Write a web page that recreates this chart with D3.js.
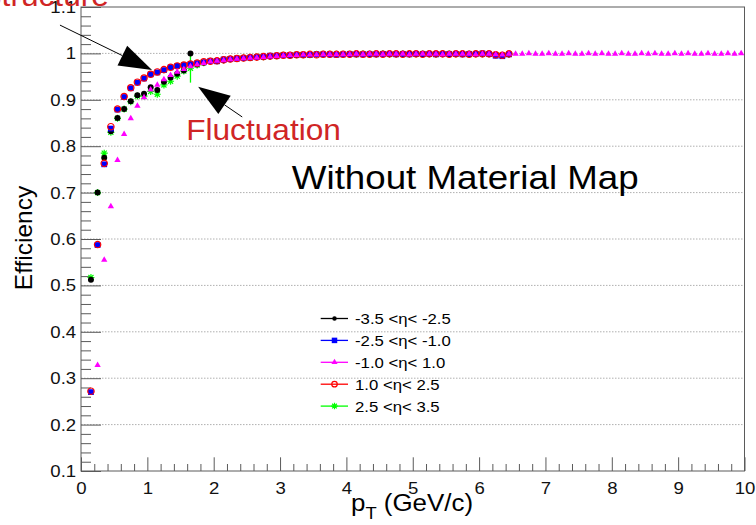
<!DOCTYPE html>
<html>
<head>
<meta charset="utf-8">
<script src="https://cdn.jsdelivr.net/npm/d3@7"></script>
<style>
  html, body { margin: 0; padding: 0; background: #fff; }
  svg { display: block; font-family: "Liberation Sans", Arial, Helvetica, sans-serif; }
</style>
</head>
<body>
<svg id="chart" width="756" height="525"></svg>
<script>
// ---- data: tracking efficiency vs pT in five pseudorapidity ranges ----
const ptBins = [
  0.15,0.25,0.35,0.45,0.55,0.65,0.75,0.85,0.95,1.05,
  1.15,1.25,1.35,1.45,1.55,1.65,1.75,1.85,1.95,2.05,
  2.15,2.25,2.35,2.45,2.55,2.65,2.75,2.85,2.95,3.05,
  3.15,3.25,3.35,3.45,3.55,3.65,3.75,3.85,3.95,4.05,
  4.15,4.25,4.35,4.45,4.55,4.65,4.75,4.85,4.95,5.05,
  5.15,5.25,5.35,5.45,5.55,5.65,5.75,5.85,5.95,6.05,
  6.15,6.25,6.35,6.45,6.55,6.65,6.75,6.85,6.95,7.05,
  7.15,7.25,7.35,7.45,7.55,7.65,7.75,7.85,7.95,8.05,
  8.15,8.25,8.35,8.45,8.55,8.65,8.75,8.85,8.95,9.05,
  9.15,9.25,9.35,9.45,9.55,9.65,9.75,9.85,9.95
];

// -3.5 < eta < -2.5
const effEtaM35M25 = [
  0.512,0.700,0.775,0.832,0.861,0.880,0.897,0.910,0.913,0.927,
  0.921,0.939,0.948,0.956,0.963,1.000,0.976,0.980,0.983,0.984,
  0.986,0.988,0.989,0.990,0.991,0.992,0.993,0.994,0.995,0.996,
  0.996,0.997,0.997,0.997,0.998,0.998,0.998,0.998,0.998,0.998,
  0.999,0.998,0.999,0.998,0.999,0.999,0.998,0.999,0.999,0.999,
  0.998,0.999,0.999,0.999,0.998,0.999,0.999,0.999,0.999,0.999,
  0.999,0.997,0.996,0.998
];
// -2.5 < eta < -1.0
const effEtaM25M10 = [
  0.270,0.587,0.761,0.838,0.879,0.906,0.925,0.937,0.946,0.955,
  0.959,0.964,0.970,0.973,0.975,0.977,0.979,0.981,0.984,0.983,
  0.987,0.988,0.989,0.990,0.991,0.992,0.993,0.995,0.995,0.996,
  0.996,0.997,0.997,0.997,0.998,0.998,0.998,0.997,0.998,0.999,
  0.998,0.998,0.999,0.998,0.999,0.999,0.998,0.999,0.998,0.999,
  0.999,0.999,0.998,0.999,0.999,0.999,0.998,0.999,0.999,1.000,
  0.999,0.995,0.994,0.998
];
// -1.0 < eta < 1.0 (no entry in the first bin)
const effEtaM10P10 = [
  null,0.328,0.555,0.670,0.770,0.826,0.860,0.887,0.905,0.922,
  0.932,0.944,0.953,0.960,0.966,0.972,0.976,0.979,0.982,0.984,
  0.985,0.987,0.988,0.989,0.990,0.991,0.992,0.993,0.994,0.995,
  0.996,0.996,0.997,0.997,0.997,0.998,0.998,0.998,0.998,0.998,
  0.999,0.998,0.999,0.999,0.998,0.999,0.999,0.999,0.998,0.999,
  0.999,0.999,0.999,0.998,0.999,0.999,0.999,0.999,0.998,0.999,
  0.999,0.998,0.997,0.999,0.999,0.999,1.000,0.999,0.999,1.000,
  0.999,0.999,1.000,0.999,0.999,1.000,0.999,1.000,0.999,0.999,
  1.000,0.999,0.999,1.000,0.999,1.000,0.999,0.999,1.000,0.999,
  1.000,0.999,0.999,1.000,0.999,0.999,1.000,0.999,1.000
];
// 1.0 < eta < 2.5
const effEtaP10P25 = [
  0.272,0.588,0.763,0.842,0.880,0.907,0.926,0.938,0.947,0.955,
  0.960,0.965,0.970,0.973,0.975,0.977,0.979,0.982,0.983,0.984,
  0.986,0.988,0.989,0.990,0.991,0.992,0.993,0.994,0.995,0.996,
  0.996,0.997,0.997,0.998,0.997,0.998,0.998,0.998,0.998,0.998,
  0.999,0.998,0.998,0.999,0.998,0.999,0.999,0.998,0.999,0.999,
  0.998,0.999,0.999,0.999,0.998,0.999,0.999,0.998,0.999,0.999,
  0.999,0.997,0.996,0.999
];
// 2.5 < eta < 3.5
const effEtaP25P35 = [
  0.517,0.700,0.785,0.830,0.860,0.880,0.896,0.908,0.908,0.918,
  0.912,0.932,0.940,0.951,0.962,0.968,0.975,0.980,0.983,0.984,
  0.986,0.988,0.989,0.990,0.991,0.992,0.993,0.994,0.995,0.996,
  0.996,0.997,0.997,0.997,0.998,0.998,0.998,0.998,0.998,0.998,
  0.998,0.999,0.998,0.999,0.999,0.998,0.999,0.999,0.998,0.999,
  0.999,0.999,0.998,0.999,0.999,0.999,0.999,0.998,0.999,0.999,
  0.999,0.997,0.996,0.998
];
// statistical error of the 2.5 < eta < 3.5 points (only one is visible)
const errEtaP25P35 = [
  0,0,0,0,0,0,0,0,0,0,
  0,0,0,0,0,0.031,0,0,0,0
];

const seriesNames = ["-3.5 <\u03b7< -2.5", "-2.5 <\u03b7< -1.0", "-1.0 <\u03b7< 1.0", "1.0 <\u03b7< 2.5", "2.5 <\u03b7< 3.5"];
const seriesColors = ["#000000", "#0000ff", "#ff00ff", "#ff0000", "#00ff00"];
const seriesMarkers = ["dot", "square", "triangle", "openCircle", "asterisk"];
const seriesValues = [effEtaM35M25, effEtaM25M10, effEtaM10P10, effEtaP10P25, effEtaP25P35];
const seriesErrors = [null, null, null, null, errEtaP25P35];
// drawing order of the graphs (the forward one goes underneath, central on top)
const drawOrder = [4, 0, 1, 3, 2];

const xTicks = [0,1,2,3,4,5,6,7,8,9,10];
const xTickLabels = ["0","1","2","3","4","5","6","7","8","9","10"];
const yTicks = [0.1,0.2,0.3,0.4,0.5,0.6,0.7,0.8,0.9,1.0,1.1];
const yTickLabels = ["0.1","0.2","0.3","0.4","0.5","0.6","0.7","0.8","0.9","1","1.1"];

// ---- layout ----
const svg = d3.select("#chart");
const frame = { left: 81, right: 744.5, top: 7, bottom: 471 };
const x = d3.scaleLinear().domain([0, 10]).range([frame.left, frame.right]);
const y = d3.scaleLinear().domain([0.1, 1.1]).range([frame.bottom, frame.top]);
const STRETCH = 1.08;       // glyphs are slightly wide in this canvas
const axisColor = "#5a5a5a";

svg.append("rect").attr("width", 756).attr("height", 525).attr("fill", "#fff");

// horizontal dotted grid
svg.append("g").selectAll("line")
  .data(yTicks.filter(d => d > 0.15 && d < 1.05))
  .join("line")
  .attr("x1", frame.left).attr("x2", frame.right)
  .attr("y1", d => y(d)).attr("y2", d => y(d))
  .attr("stroke", "#b0b0b0").attr("stroke-width", 1)
  .attr("stroke-dasharray", "1.5,1.5");

// ---- axes ----
function styleAxis(g) {
  g.select(".domain").remove();
  g.selectAll(".tick line").attr("stroke", axisColor);
  g.selectAll("text")
    .attr("fill", "#111")
    .style("font-size", "17.2px")
    .style("font-family", "'Liberation Sans', Arial, sans-serif");
}

const xMinor = d3.range(0, 10.001, 0.2).filter(v => Math.abs(v - Math.round(v)) > 1e-6);
svg.append("g").attr("transform", `translate(0,${frame.bottom})`)
  .call(d3.axisBottom(x).tickValues(xMinor).tickSizeInner(-7).tickSizeOuter(0).tickFormat(""))
  .call(styleAxis);
const xAxisG = svg.append("g").attr("transform", `translate(0,${frame.bottom})`)
  .call(d3.axisBottom(x).tickValues(xTicks).tickSizeInner(-13.7).tickSizeOuter(0)
        .tickPadding(10.5).tickFormat((d, i) => xTickLabels[i]))
  .call(styleAxis);
xAxisG.selectAll("text").attr("transform", `scale(${STRETCH},1)`);

const yMinor = d3.range(0.1, 1.1001, 0.02).filter(v => Math.abs(v * 10 - Math.round(v * 10)) > 1e-6);
svg.append("g").attr("transform", `translate(${frame.left},0)`)
  .call(d3.axisLeft(y).tickValues(yMinor).tickSizeInner(-10).tickSizeOuter(0).tickFormat(""))
  .call(styleAxis);
const yAxisG = svg.append("g").attr("transform", `translate(${frame.left},0)`)
  .call(d3.axisLeft(y).tickValues(yTicks).tickSizeInner(-20).tickSizeOuter(0)
        .tickPadding(4.5).tickFormat((d, i) => yTickLabels[i]))
  .call(styleAxis);
yAxisG.selectAll("text").attr("transform", `scale(${STRETCH},1)`);

// frame
svg.append("rect")
  .attr("x", frame.left).attr("y", frame.top)
  .attr("width", frame.right - frame.left).attr("height", frame.bottom - frame.top)
  .attr("fill", "none").attr("stroke", axisColor).attr("stroke-width", 1);

// axis titles
const xTitle = svg.append("text")
  .attr("transform", `translate(351,511) scale(${STRETCH},1)`)
  .style("font-size", "24px").attr("fill", "#000");
xTitle.append("tspan").text("p");
xTitle.append("tspan").attr("dy", 8).style("font-size", "17px").text("T");
xTitle.append("tspan").attr("dy", -8).text(" (GeV/c)");

svg.append("text")
  .attr("transform", "translate(32,238) rotate(-90)")
  .attr("text-anchor", "middle")
  .style("font-size", "24.5px").attr("fill", "#000")
  .text("Efficiency");

// ---- markers ----
function markerPath(kind, s) {
  switch (kind) {
    case "dot": return d3.symbol(d3.symbolCircle, s * s * 0.78)();
    case "square": return d3.symbol(d3.symbolSquare, s * s)();
    case "triangle": return d3.symbol(d3.symbolTriangle, s * s * 0.45)();
    case "openCircle": return d3.symbol(d3.symbolCircle, s * s * 0.78)();
    case "asterisk": {
      const r = s / 2, q = r * 0.72;
      return `M${-r},0L${r},0M0,${-r}L0,${r}M${-q},${-q}L${q},${q}M${-q},${q}L${q},${-q}`;
    }
  }
}
function applyMarker(sel, kind, color) {
  if (kind === "openCircle") sel.attr("fill", "none").attr("stroke", color).attr("stroke-width", 1.2);
  else if (kind === "asterisk") sel.attr("fill", "none").attr("stroke", color).attr("stroke-width", 1.2);
  else sel.attr("fill", color).attr("stroke", "none");
}
const markerSize = { dot: 6, square: 5.8, triangle: 6.2, openCircle: 6.4, asterisk: 7 };

const plot = svg.append("g");
drawOrder.forEach(si => {
  const vals = seriesValues[si];
  const pts = vals.map((v, i) => ({ pt: ptBins[i], v, e: seriesErrors[si] ? (seriesErrors[si][i] || 0) : 0 }))
                  .filter(d => d.v !== null);
  const g = plot.append("g");
  // error bars
  g.selectAll("line.err").data(pts.filter(d => d.e > 0)).join("line")
    .attr("class", "err")
    .attr("x1", d => x(d.pt)).attr("x2", d => x(d.pt))
    .attr("y1", d => y(d.v - d.e)).attr("y2", d => y(d.v + d.e))
    .attr("stroke", seriesColors[si]).attr("stroke-width", 1.3);
  const kind = seriesMarkers[si];
  g.selectAll("path.pt").data(pts).join("path")
    .attr("class", "pt")
    .attr("transform", d => `translate(${x(d.pt)},${y(d.v)})`)
    .attr("d", markerPath(kind, markerSize[kind]))
    .call(applyMarker, kind, seriesColors[si]);
});

// ---- annotations ----
function arrow(from, to, headLen, headHalf) {
  const x0 = x(from[0]), y0 = y(from[1]), x1 = x(to[0]), y1 = y(to[1]);
  const L = Math.hypot(x1 - x0, y1 - y0), ux = (x1 - x0) / L, uy = (y1 - y0) / L;
  const bx = x1 - ux * headLen, by = y1 - uy * headLen;
  svg.append("line").attr("x1", x0).attr("y1", y0).attr("x2", bx).attr("y2", by)
    .attr("stroke", "#000").attr("stroke-width", 1);
  svg.append("path")
    .attr("d", `M${x1},${y1}L${bx - uy * headHalf},${by + ux * headHalf}L${bx + uy * headHalf},${by - ux * headHalf}Z`)
    .attr("fill", "#000");
}
arrow([-0.317, 1.061], [1.07, 0.964], 33, 11);
arrow([2.43, 0.863], [1.765, 0.928], 32, 11);

svg.append("text")
  .attr("transform", `translate(${x(0.42)},${y(1.102)}) scale(${STRETCH},1)`)
  .attr("text-anchor", "end")
  .style("font-size", "29.3px").attr("fill", "#d02525")
  .text("Structure");

svg.append("text")
  .attr("transform", `translate(${x(1.585)},${y(0.814)}) scale(${STRETCH},1)`)
  .style("font-size", "29.3px").attr("fill", "#d02525")
  .text("Fluctuation");

svg.append("text")
  .attr("transform", `translate(${x(3.178)},${y(0.707)}) scale(${STRETCH},1)`)
  .style("font-size", "34px").attr("fill", "#000")
  .text("Without Material Map");

// ---- legend ----
const legend = svg.append("g");
const legendRows = legend.selectAll("g").data(seriesNames).join("g")
  .attr("transform", (d, i) => `translate(0,${318.5 + i * 21.9})`);
legendRows.append("line")
  .attr("x1", 320.7).attr("x2", 348).attr("y1", 0).attr("y2", 0)
  .attr("stroke", (d, i) => seriesColors[i]).attr("stroke-width", 1.3);
legendRows.each(function (d, i) {
  const kind = seriesMarkers[i];
  const legendSize = { dot: 4.5, square: 5.5, triangle: 6, openCircle: 5.5, asterisk: 6.5 }[kind];
  d3.select(this).append("path")
    .attr("transform", "translate(334.5,0)")
    .attr("d", markerPath(kind, legendSize))
    .call(applyMarker, kind, seriesColors[i]);
});
legendRows.append("text")
  .attr("transform", `translate(355,0) scale(${STRETCH},1)`)
  .attr("dy", "0.36em")
  .style("font-size", "15.5px").attr("fill", "#000")
  .text(d => d);
</script>
</body>
</html>
